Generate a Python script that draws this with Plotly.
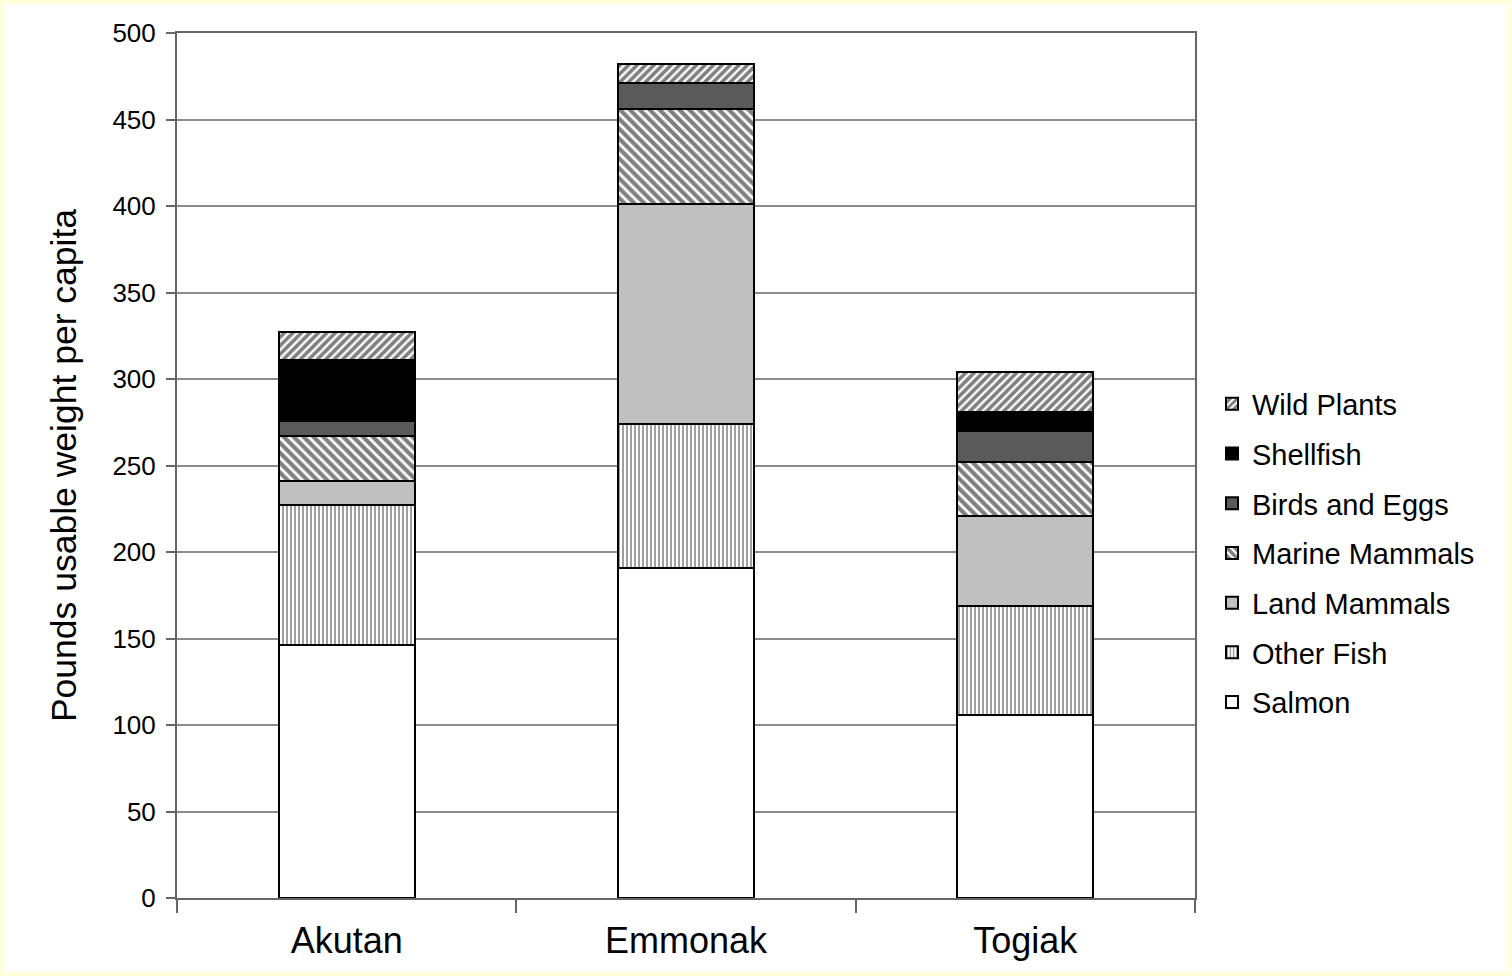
import plotly.graph_objects as go

communities = ["Akutan", "Emmonak", "Togiak"]

salmon = [146, 191, 106]
other_fish = [81, 83, 63]
land_mammals = [14, 127, 52]
marine_mammals = [26, 55, 31]
birds_eggs = [9, 15, 18]
shellfish = [35, 0, 11]
wild_plants = [16, 11, 23]

y_ticks = [0, 50, 100, 150, 200, 250, 300, 350, 400, 450, 500]

W, H = 1512, 976
L, R, T, B = 177, 317, 33, 78
pw, ph = W - L - R, H - T - B

series = [
    ("Salmon", salmon, dict(color="white")),
    ("Other Fish", other_fish, dict(color="white", pattern=dict(shape="|", fgcolor="#2a2a2a", bgcolor="white", size=4, solidity=0.45))),
    ("Land Mammals", land_mammals, dict(color="#c0c0c0")),
    ("Marine Mammals", marine_mammals, dict(color="white", pattern=dict(shape="\\", fgcolor="black", bgcolor="white", size=7, solidity=0.6))),
    ("Birds and Eggs", birds_eggs, dict(color="#5a5a5a")),
    ("Shellfish", shellfish, dict(color="black")),
    ("Wild Plants", wild_plants, dict(color="white", pattern=dict(shape="/", fgcolor="black", bgcolor="white", size=6, solidity=0.6))),
]

fig = go.Figure()
n = len(series)
for i, (name, vals, mk) in enumerate(series):
    mk = dict(mk)
    mk["line"] = dict(color="black", width=2)
    fig.add_trace(go.Bar(x=communities, y=vals, name=name, marker=mk,
                         width=0.4, legendgroup=name, legendrank=n - i))

fig.update_layout(
    width=W, height=H,
    barmode="stack",
    paper_bgcolor="#FFFFDC",
    plot_bgcolor="white",
    margin=dict(l=L, r=R, t=T, b=B, autoexpand=False),
    font=dict(family="Liberation Sans, Arial, sans-serif", color="black"),
    showlegend=True,
    legend=dict(
        x=(1212 - L) / pw, xanchor="left",
        y=(898 - 553) / ph, yanchor="middle",
        traceorder="grouped",
        tracegroupgap=9,
        font=dict(size=29, color="black"),
        bgcolor="rgba(0,0,0,0)",
    ),
    shapes=[dict(
        type="rect", xref="paper", yref="paper", layer="below",
        x0=(4 - L) / pw, x1=(1508 - L) / pw,
        y0=(898 - 972) / ph, y1=(898 - 4) / ph,
        fillcolor="white", line=dict(width=0),
    )],
)

fig.update_xaxes(
    type="category",
    tickson="boundaries",
    ticks="outside", ticklen=13, tickwidth=2, tickcolor="#666",
    showline=True, linecolor="#666", linewidth=2, mirror=True,
    showgrid=False,
    tickfont=dict(size=36),
    ticklabelstandoff=10,
)
fig.update_yaxes(
    range=[0, 500],
    tickvals=y_ticks,
    ticks="outside", ticklen=9, tickwidth=2, tickcolor="#666",
    showline=True, linecolor="#666", linewidth=2, mirror=True,
    showgrid=True, gridcolor="#8c8c8c", gridwidth=1.5,
    zeroline=False,
    tickfont=dict(size=26),
    ticklabelstandoff=5,
    title=dict(text="Pounds usable weight per capita", font=dict(size=35.5), standoff=25),
)

fig.write_html(
    "out.html",
    config={"displayModeBar": False},
    post_script="document.body.style.margin='0';document.body.style.padding='0';document.body.style.background='#FFFFDC';",
)
